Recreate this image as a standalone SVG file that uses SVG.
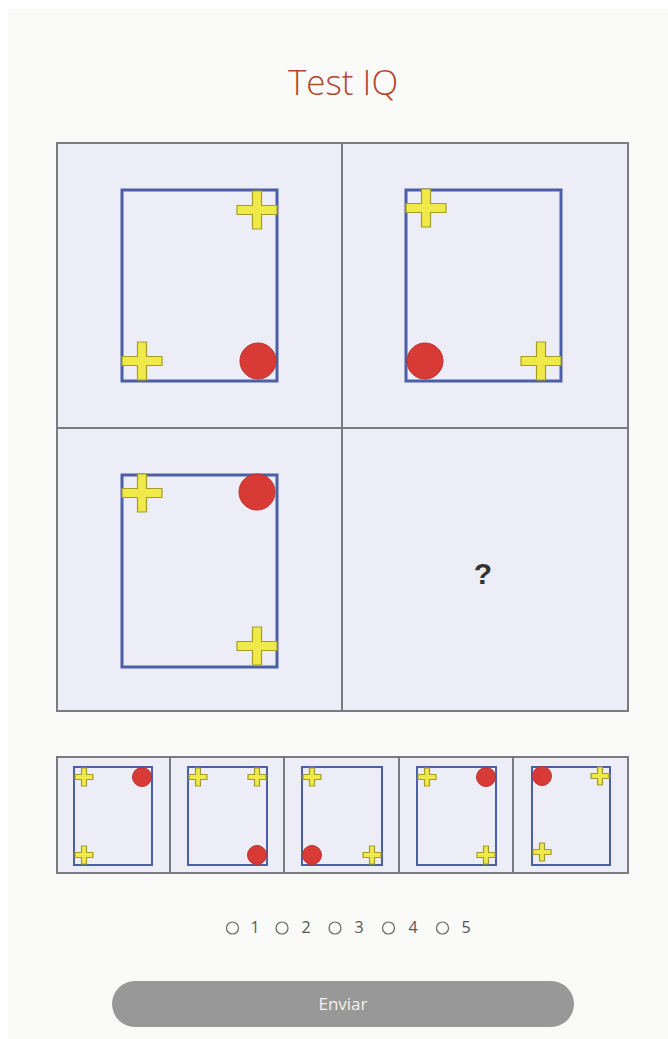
<svg xmlns="http://www.w3.org/2000/svg" width="668" height="1039" viewBox="0 0 668 1039">
<defs>
<style>
.title{font-family:"Open Sans","Liberation Sans",sans-serif;font-weight:300;font-size:35px;fill:#b5452a}
.frame{fill:none;stroke:#4b5fa6;stroke-width:3}
.frames{fill:none;stroke:#4b5fa6;stroke-width:2}
.cell{fill:#ecedf6;stroke:#7a7a80;stroke-width:2}
.cross{fill:#efe94a;stroke:#a59d2a;stroke-width:1.2}
.dot{fill:#d83a36;stroke:#b8322e;stroke-width:1}
.lbl{font-family:"Open Sans","Liberation Sans",sans-serif;font-size:16px;fill:#555}
.radio{fill:none;stroke:#666;stroke-width:1.2}
</style>
<path id="bigcross" d="M-4.5,-19 H4.5 V-4.5 H20 V4.5 H4.5 V19 H-4.5 V4.5 H-20 V-4.5 H-4.5 Z"/>
<path id="smallcross" d="M-2.5,-9 H2.5 V-2.5 H9 V2.5 H2.5 V9 H-2.5 V2.5 H-9 V-2.5 H-2.5 Z"/>
</defs>
<rect width="668" height="1039" fill="#ffffff"/>
<rect x="8" y="9" width="660" height="1030" fill="#fafaf8"/>
<text class="title" x="343" y="95" text-anchor="middle">Test IQ</text>

<g id="grid">
<rect class="cell" x="57" y="143" width="285" height="285"/>
<rect class="cell" x="342" y="143" width="286" height="285"/>
<rect class="cell" x="57" y="428" width="285" height="283"/>
<rect class="cell" x="342" y="428" width="286" height="283"/>
</g>

<g id="cell1">
<rect class="frame" x="122" y="190" width="155" height="191"/>
<use href="#bigcross" class="cross" x="257" y="210"/>
<use href="#bigcross" class="cross" x="142" y="361"/>
<circle class="dot" cx="258" cy="361" r="18"/>
</g>
<g id="cell2">
<rect class="frame" x="406" y="190" width="155" height="191"/>
<use href="#bigcross" class="cross" x="426" y="208"/>
<circle class="dot" cx="425" cy="361" r="18"/>
<use href="#bigcross" class="cross" x="541" y="361"/>
</g>
<g id="cell3">
<rect class="frame" x="122" y="475" width="155" height="192"/>
<use href="#bigcross" class="cross" x="142" y="493"/>
<circle class="dot" cx="257" cy="492" r="18"/>
<use href="#bigcross" class="cross" x="257" y="646"/>
</g>
<g id="cell4">
<text x="483" y="584" text-anchor="middle" font-family="Liberation Sans, Arial, sans-serif" font-weight="bold" font-size="30" fill="#333">?</text>
</g>

<g id="options">
<rect class="cell" x="57" y="757" width="113" height="116"/>
<rect class="cell" x="170" y="757" width="114" height="116"/>
<rect class="cell" x="284" y="757" width="115" height="116"/>
<rect class="cell" x="399" y="757" width="114" height="116"/>
<rect class="cell" x="513" y="757" width="115" height="116"/>
</g>
<g id="opt1">
<rect class="frames" x="74" y="767" width="78" height="98"/>
<use href="#smallcross" class="cross" x="84" y="777"/>
<circle class="dot" cx="142" cy="777" r="9.5"/>
<use href="#smallcross" class="cross" x="84" y="855"/>
</g>
<g id="opt2">
<rect class="frames" x="188" y="767" width="79" height="98"/>
<use href="#smallcross" class="cross" x="198" y="777"/>
<use href="#smallcross" class="cross" x="257" y="777"/>
<circle class="dot" cx="257" cy="855" r="9.5"/>
</g>
<g id="opt3">
<rect class="frames" x="302" y="767" width="80" height="98"/>
<use href="#smallcross" class="cross" x="312" y="777"/>
<circle class="dot" cx="312" cy="855" r="9.5"/>
<use href="#smallcross" class="cross" x="372" y="855"/>
</g>
<g id="opt4">
<rect class="frames" x="417" y="767" width="79" height="98"/>
<use href="#smallcross" class="cross" x="427" y="777"/>
<circle class="dot" cx="486" cy="777" r="9.5"/>
<use href="#smallcross" class="cross" x="486" y="855"/>
</g>
<g id="opt5">
<rect class="frames" x="532" y="767" width="78" height="98"/>
<circle class="dot" cx="542" cy="776" r="9.5"/>
<use href="#smallcross" class="cross" x="600" y="776"/>
<use href="#smallcross" class="cross" x="542" y="852"/>
</g>

<g id="radios">
<circle class="radio" cx="232.5" cy="928" r="6"/><text class="lbl" x="255" y="933" text-anchor="middle">1</text>
<circle class="radio" cx="282" cy="928" r="6"/><text class="lbl" x="306" y="933" text-anchor="middle">2</text>
<circle class="radio" cx="335" cy="928" r="6"/><text class="lbl" x="359" y="933" text-anchor="middle">3</text>
<circle class="radio" cx="388.5" cy="928" r="6"/><text class="lbl" x="413" y="933" text-anchor="middle">4</text>
<circle class="radio" cx="442.5" cy="928" r="6"/><text class="lbl" x="466" y="933" text-anchor="middle">5</text>
</g>

<g id="button">
<rect x="112" y="981" width="462" height="46" rx="23" fill="#989898"/>
<text x="343" y="1010" text-anchor="middle" font-family="Open Sans, Liberation Sans, sans-serif" font-size="17" fill="#f4f2ee">Enviar</text>
</g>
</svg>
